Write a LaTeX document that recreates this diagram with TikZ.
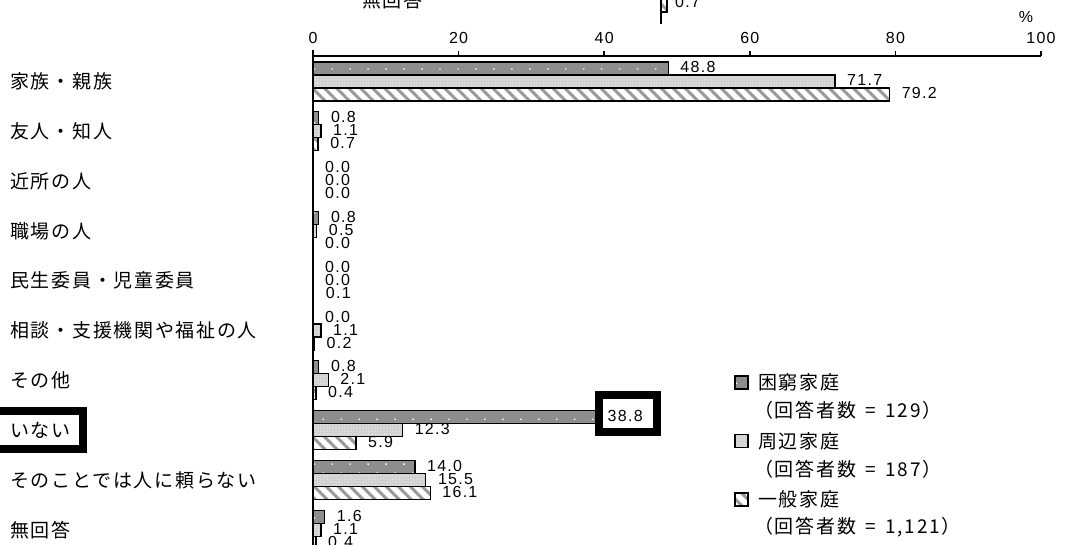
\documentclass[tikz,border=0pt]{standalone}
\usepackage{fontspec}
\setmainfont{Noto Sans CJK JP}[LetterSpace=9]
\newfontfamily\numfont{Liberation Sans}[LetterSpace=8]
\usetikzlibrary{patterns.meta}
\definecolor{barGray}{HTML}{8E8E8E}
\definecolor{lightGray}{HTML}{D0D0D0}
\definecolor{stripeGray}{HTML}{9A9A9A}
\tikzset{
  catLabel/.style={anchor=west, inner sep=0pt, font=\fontsize{19}{19}\selectfont},
  valLabel/.style={anchor=west, inner sep=0pt, text height=11pt, text depth=0pt, font=\numfont\fontsize{16}{16}\selectfont},
  tickLabel/.style={anchor=center, inner sep=0pt, font=\numfont\fontsize{16}{16}\selectfont},
  poorBar/.style={preaction={fill=barGray}, preaction={pattern={Dots[distance=12.7pt, angle=45, radius=1pt]}, pattern color=white}, draw, line width=1.3pt},
  nearBar/.style={preaction={fill=lightGray}, preaction={pattern={Dots[distance=3pt, radius=0.7pt]}, pattern color=white}, draw, line width=1.3pt},
  genBar/.style={preaction={fill=white}, preaction={pattern={Lines[angle=-45, distance=8.5pt, line width=3pt]}, pattern color=stripeGray}, draw, line width=1.3pt},
%  plainBox/.style={draw, line width=1pt},
  hiBox/.style={draw, line width=8pt}
}

\begin{document}
\begin{tikzpicture}[x=1pt, y=-1pt]
  \useasboundingbox (0,0) rectangle (1070,545);
  \clip (0,0) rectangle (1070,545);

  % end of the chart above
  \node [catLabel] (prevNa) at (362,0.5) {無回答};
  \path [genBar] (661,-10) rectangle (667,12);
  \draw [line width=1.5pt] (661,-10) -- (661,24);
  \node [valLabel] (prevVal) at (675,2) {0.7};

  % axes
  \draw [line width=1.5pt] (313,50) -- (313,550);
  \draw [line width=1.5pt] (313,56) -- (1041,56);
  \foreach \t in {0,20,...,100} {
    \draw [line width=1.5pt] (313+\t*7.28,56) -- ++(0,-5);
    \node [tickLabel] (tick\t) at (313+\t*7.28,38) {\t};
  }
  \node [tickLabel] (pct) at (1026,17) {\%};

  % bars
  \foreach \cat/\a/\b/\c [count=\i from 0] in {
      家族・親族/48.8/71.7/79.2,
      友人・知人/0.8/1.1/0.7,
      近所の人/0.0/0.0/0.0,
      職場の人/0.8/0.5/0.0,
      民生委員・児童委員/0.0/0.0/0.1,
      相談・支援機関や福祉の人/0.0/1.1/0.2,
      その他/0.8/2.1/0.4,
      いない/38.8/12.3/5.9,
      そのことでは人に頼らない/14.0/15.5/16.1,
      無回答/1.6/1.1/0.4} {
    \pgfmathsetmacro\yc{81.5+49.8*\i}
    \node [catLabel] (cat\i) at (10,\yc) {\cat};
    \foreach \v/\st [count=\j from 0] in {\a/poorBar,\b/nearBar,\c/genBar} {
      \pgfmathsetmacro\yt{\yc-19.5+13*\j}
      \ifdim\v pt>0pt \path [\st] (313,\yt) rectangle ++(\v*7.28,13); \fi
      \node [valLabel] (val\i\j) at (313+\v*7.28+12,\yt+5.5) {\v};
    }
  }

  % highlights
  \draw [hiBox] (-10,411) rectangle (83,449);
  \draw [hiBox] (599,395) rectangle (657,432);

  % legend
  \foreach \st/\name/\n [count=\k from 0] in {
      poorBar/困窮家庭/129,
      nearBar/周辺家庭/187,
      genBar/一般家庭/{1,121}} {
    \pgfmathsetmacro\yl{382.5+58.5*\k}
    \path [\st] (735,\yl-6.5) rectangle ++(13,13);
    \node [catLabel] (key\k) at (758,\yl) {\name};
    \node [catLabel] (keyN\k) at (754,\yl+28) {（回答者数\enskip=\enskip\n）};
  }
\end{tikzpicture}
\end{document}
